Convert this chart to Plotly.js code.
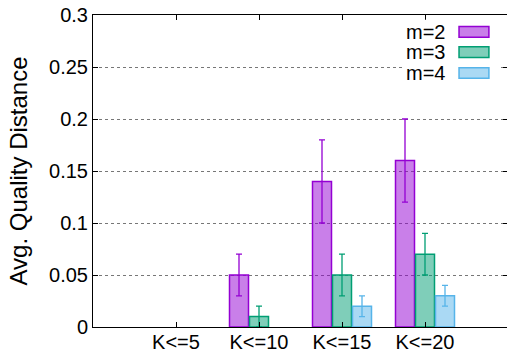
<!DOCTYPE html>
<html>
<head>
<meta charset="utf-8">
<script src="https://cdn.plot.ly/plotly-3.0.1.min.js"></script>
<style>html,body{margin:0;padding:0;overflow:hidden;background:#fff;}#chart{width:515px;height:353px;}</style>
</head>
<body>
<div id="chart"></div>
<script>
const categories = ["K<=5", "K<=10", "K<=15", "K<=20"];
const seriesNames = ["m=2", "m=3", "m=4"];
const m2 = [0, 0.05, 0.14, 0.16];
const m2err = [0, 0.02, 0.04, 0.04];
const m3 = [0, 0.01, 0.05, 0.07];
const m3err = [0, 0.01, 0.02, 0.02];
const m4 = [0, 0, 0.02, 0.03];
const m4err = [0, 0, 0.01, 0.01];
const yTicks = [0, 0.05, 0.1, 0.15, 0.2, 0.25, 0.3];
const yTickText = ["0", "0.05", "0.1", "0.15", "0.2", "0.25", "0.3"];

const lineColors = ["#9400D3", "#009E73", "#56B4E9"];
const fillColors = ["rgba(148,0,211,0.5)", "rgba(0,158,115,0.5)", "rgba(86,180,233,0.5)"];
const values = [m2, m3, m4];
const errs = [m2err, m3err, m4err];

// zero-height bars are not drawn in the reference
const traces = values.map((v, i) => ({
  type: "bar",
  name: seriesNames[i],
  x: categories,
  y: v.map(d => d === 0 ? null : d),
  marker: {color: fillColors[i], line: {color: lineColors[i], width: 1.5}},
  error_y: {type: "data", array: errs[i], visible: true, color: lineColors[i], thickness: 1.3, width: 3},
  showlegend: false,
  hoverinfo: "skip"
}));

const FONT = "Liberation Sans, Arial, Helvetica, sans-serif";
const shapes = [
  {type: "rect", xref: "paper", yref: "paper", x0: 0.745, x1: 0.982, y0: 0.78, y1: 0.985, fillcolor: "#fff", line: {width: 0}, layer: "above"}
];
const annotations = [];
const rowY = [0.946, 0.881, 0.814];
seriesNames.forEach((n, i) => {
  shapes.push({type: "rect", xref: "paper", yref: "paper", x0: 0.882, x1: 0.954, y0: rowY[i] - 0.017, y1: rowY[i] + 0.017,
    fillcolor: fillColors[i], line: {color: lineColors[i], width: 1.5}, layer: "above"});
  annotations.push({xref: "paper", yref: "paper", x: 0.853, y: rowY[i], xanchor: "right", yanchor: "middle",
    text: n, showarrow: false, font: {family: FONT, size: 20, color: "#000"}});
});

const layout = {
  width: 515, height: 353,
  margin: {l: 93, r: 7, t: 15, b: 26, pad: 0},
  paper_bgcolor: "#fff", plot_bgcolor: "#fff",
  barmode: "group", bargap: 0.277, bargroupgap: 0.05,
  font: {family: FONT, size: 20, color: "#000"},
  xaxis: {
    type: "category", categoryorder: "array", categoryarray: categories,
    range: [-1, 4], showgrid: false, zeroline: false,
    showline: true, linecolor: "#000", linewidth: 1, mirror: "ticks",
    ticks: "inside", ticklen: 5, tickcolor: "#000", ticklabelstandoff: -3,
    tickfont: {family: FONT, size: 20, color: "#000"}
  },
  yaxis: {
    range: [0, 0.3], tickvals: yTicks, ticktext: yTickText,
    showgrid: true, gridcolor: "#777", griddash: "dot", gridwidth: 1,
    zeroline: false, showline: true, linecolor: "#000", linewidth: 1, mirror: "ticks",
    ticks: "inside", ticklen: 5, tickcolor: "#000",
    tickfont: {family: FONT, size: 20, color: "#000"},
    title: {text: "Avg. Quality Distance", font: {family: FONT, size: 24, color: "#000"}, standoff: 14}
  },
  shapes: shapes,
  annotations: annotations
};

Plotly.newPlot("chart", traces, layout, {staticPlot: true, displayModeBar: false});
</script>
</body>
</html>
